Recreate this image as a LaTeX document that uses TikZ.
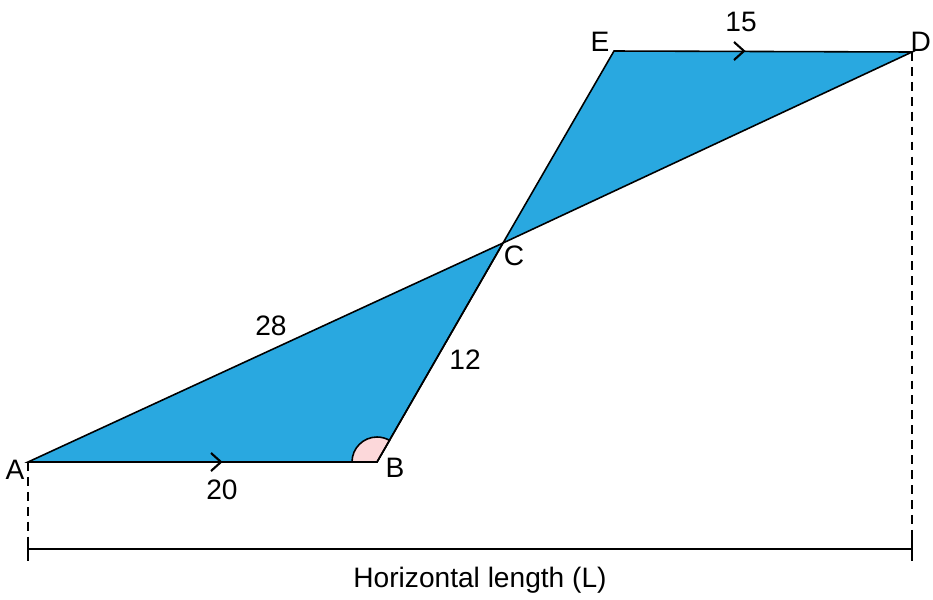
\documentclass[tikz,border=0pt]{standalone}
\usepackage{fontspec}
\setmainfont{Liberation Sans}
\usetikzlibrary{positioning,calc}
\definecolor{shapeblue}{RGB}{41,168,224}
\definecolor{anglepink}{RGB}{252,216,218}

\begin{document}
\begin{tikzpicture}[x=0.02cm,y=-0.02cm,
        face/.style={fill=shapeblue,draw=black,line width=0.9pt,line join=miter},
        guide/.style={line width=1.5pt,dash pattern=on 5pt off 3.5pt},
        dimline/.style={line width=1.5pt},
        chev/.style={line width=1.2pt},
        lbl/.style={font=\fontsize{16}{18}\selectfont,inner sep=1pt}]
  \useasboundingbox (0,0) rectangle (933,599);
  % corner points
  \coordinate (A) at (28,462);
  \coordinate (B) at (377,462);
  \coordinate (C) at (503,243);
  \coordinate (E) at (614,51);
  \coordinate (D) at (912,52);
  % the two triangles
  \draw[face] (A) -- (B) -- (C) -- cycle;
  \draw[face] (C) -- (E) -- (D) -- cycle;
  % angle at B
  \draw[fill=anglepink,line width=0.9pt] ($(B)+(-25,0)$) arc[start angle=180,end angle=300,radius=25] -- (B) -- cycle;
  \draw[line width=0.9pt] (A) -- (B) -- (C);
  % parallel marks
  \coordinate (mAB) at (221,462);
  \coordinate (mED) at (744,51);
  \draw[chev] ($(mAB)+(-10,-9)$) -- (mAB) -- ($(mAB)+(-10,9)$);
  \draw[chev] ($(mED)+(-10,-9)$) -- (mED) -- ($(mED)+(-10,9)$);
  % dimension
  \coordinate (Lleft) at (28,549);
  \coordinate (Lright) at (912,549);
  \draw[guide] (A) -- (28,538);
  \draw[guide] (D) -- (912,538);
  \draw[dimline] (Lleft) -- (Lright);
  \draw[dimline] (28,537) -- (28,561);
  \draw[dimline] (912,537) -- (912,561);
  % labels
  \node[lbl] (lA) at (15,470) {A};
  \node[lbl] (lB) at (395,468) {B};
  \node[lbl] (lC) at (514,256) {C};
  \node[lbl] (lE) at (600,42) {E};
  \node[lbl,anchor=east] (lD) at (933,42) {D};
  \node[lbl] (l20) at (222,490) {20};
  \node[lbl] (l28) at (271,326) {28};
  \node[lbl] (l12) at (465,360) {12};
  \node[lbl] (l15) at (741,22) {15};
  \node[lbl] (lL) at (480,580) {Horizontal length (L)};
\end{tikzpicture}
\end{document}
